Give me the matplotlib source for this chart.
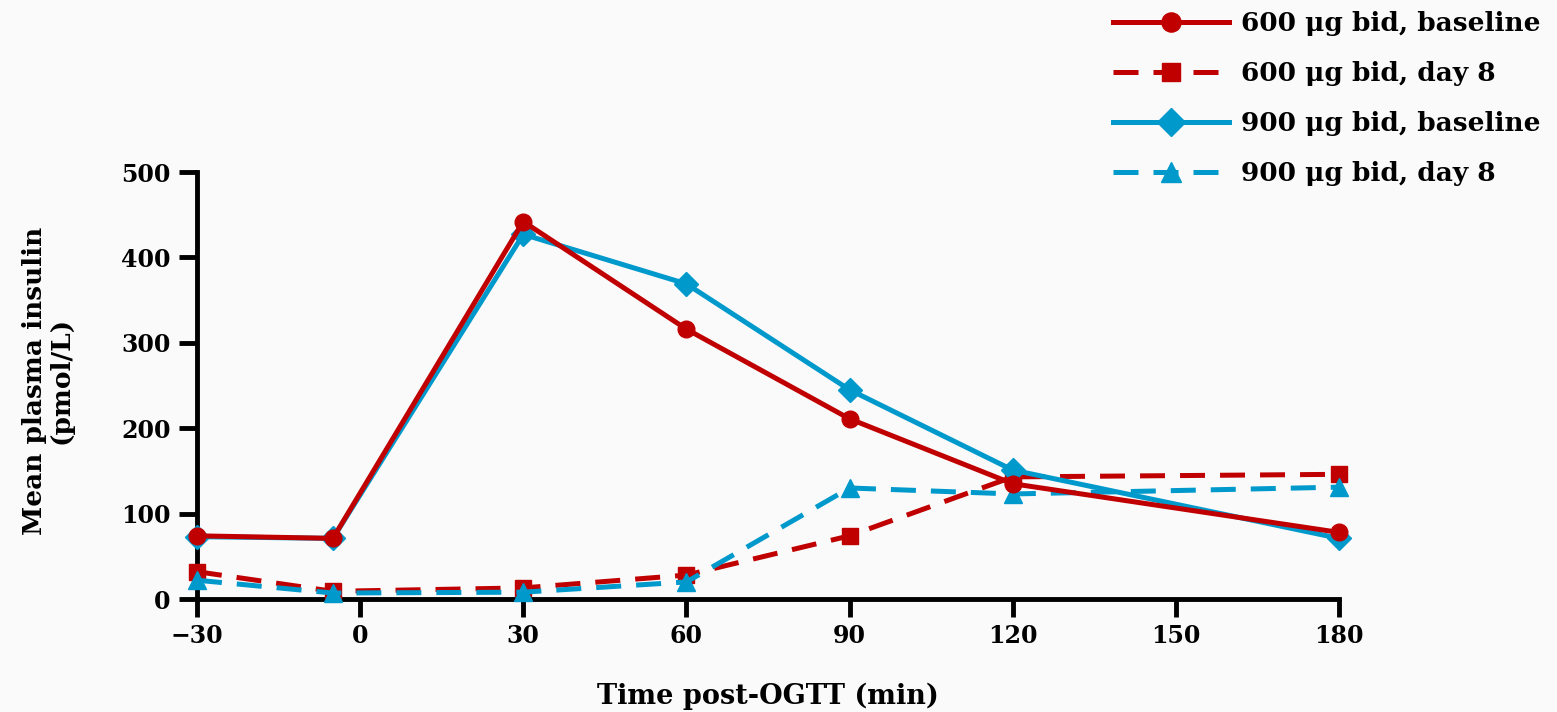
import matplotlib.pyplot as plt

# sampling times (min) relative to the OGTT
time_min = [-30, -5, 30, 60, 90, 120, 180]

# mean plasma insulin (pmol/L)
ins_600_baseline = [74, 71, 442, 316, 211, 135, 78]
ins_600_day8 = [32, 9, 13, 28, 74, 143, 146]
ins_900_baseline = [73, 71, 427, 369, 245, 151, 71]
ins_900_day8 = [22, 7, 8, 20, 130, 123, 131]

labels = ['600 μg bid, baseline', '600 μg bid, day 8',
          '900 μg bid, baseline', '900 μg bid, day 8']
xticks = [-30, 0, 30, 60, 90, 120, 150, 180]
yticks = [0, 100, 200, 300, 400, 500]

red = '#c00000'
blue = '#0099cc'
bg = '#fafafa'

plt.rcParams['font.family'] = ['DejaVu Serif']
plt.rcParams['font.weight'] = 'bold'

fig = plt.figure(figsize=(15.57, 7.12), dpi=100, facecolor=bg)
ax = fig.add_axes([0.1265, 0.1587, 0.7335, 0.5997])
ax.set_facecolor(bg)

lw = 3.6
dash = (0, (5, 3))
ax.plot(time_min, ins_600_day8, color=red, lw=lw, linestyle=dash,
        marker='s', markersize=11, clip_on=False, zorder=3, label=labels[1])
ax.plot(time_min, ins_900_day8, color=blue, lw=lw, linestyle=dash,
        marker='^', markersize=13, clip_on=False, zorder=4, label=labels[3])
ax.plot(time_min, ins_900_baseline, color=blue, lw=lw, marker='D',
        markersize=12, clip_on=False, zorder=5, label=labels[2])
ax.plot(time_min, ins_600_baseline, color=red, lw=lw, marker='o',
        markersize=12, clip_on=False, zorder=6, label=labels[0])

ax.set_xlim(-30, 180)
ax.set_ylim(0, 500)
ax.set_xticks(xticks)
ax.set_xticklabels(['\u221230'] + [str(t) for t in xticks[1:]])
ax.set_yticks(yticks)

for side in ['top', 'right']:
    ax.spines[side].set_visible(False)
for side in ['left', 'bottom']:
    ax.spines[side].set_linewidth(3.5)
    ax.spines[side].set_capstyle('projecting')
ax.tick_params(axis='both', direction='out', length=13, width=3.5,
               labelsize=17)
ax.tick_params(axis='y', pad=6)
ax.tick_params(axis='x', pad=5)

ax.set_xlabel('Time post-OGTT (min)', fontsize=19.5, fontweight='bold')
ax.xaxis.set_label_coords(0.5, -0.195)
ax.set_ylabel('Mean plasma insulin\n(pmol/L)', fontsize=19,
              fontweight='bold', linespacing=1.1)
ax.yaxis.set_label_coords(-0.108, 0.512)

handles, labs = ax.get_legend_handles_labels()
order = [labs.index(l) for l in labels]
leg = fig.legend([handles[i] for i in order], [labs[i] for i in order],
                 loc='upper left', bbox_to_anchor=(0.715, 0.984),
                 frameon=False, fontsize=19, handlelength=4.4,
                 labelspacing=0.94, handletextpad=0.45,
                 borderpad=0, borderaxespad=0, markerscale=1.15)

fig.savefig('out.png', dpi=100, facecolor=bg)
